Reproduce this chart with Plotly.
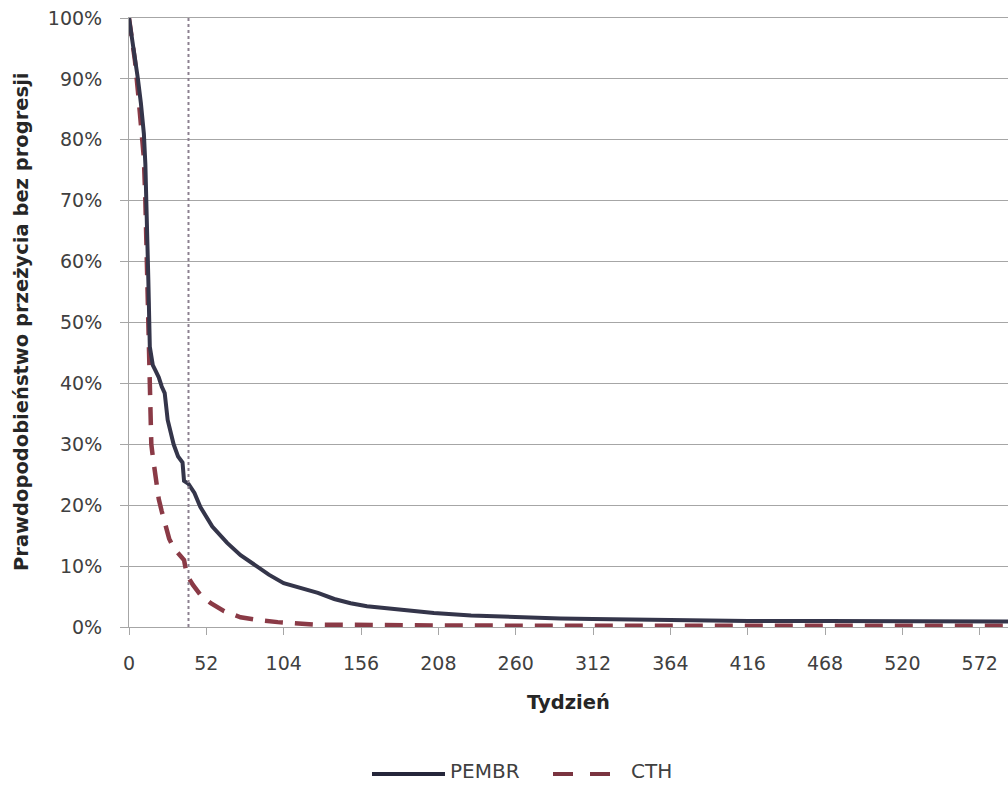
import plotly.graph_objects as go

# PEMBR progression-free survival (%)
pembr_weeks = [0, 2, 4, 6, 8, 10, 11, 12, 13, 14, 16, 18, 20, 22, 24, 26, 30, 33, 36, 37, 40, 44, 48, 56, 66, 75, 84, 94, 104, 116, 127, 138, 149, 160, 171, 188, 205, 230, 260, 290, 312, 364, 416, 468, 520, 591]
pembr_surv = [100, 97, 94, 90, 86, 81, 76, 68, 57, 46, 43, 42, 41, 39.5, 38.4, 34, 30, 28, 27, 24, 23.5, 22, 19.7, 16.5, 13.8, 11.8, 10.2, 8.6, 7.2, 6.3, 5.6, 4.6, 3.9, 3.4, 3.1, 2.7, 2.3, 1.9, 1.6, 1.4, 1.3, 1.1, 1.0, 1.0, 0.9, 0.9]

# CTH progression-free survival (%)
cth_weeks = [0, 2, 4, 6, 8, 10, 11, 12, 13, 14, 15, 16, 18, 20, 22, 24, 27, 30, 34, 37, 39, 43, 48, 55, 64, 75, 88, 100, 124, 156, 208, 300, 400, 591]
cth_surv = [100, 97, 93, 88, 83, 77, 70, 60, 45, 35, 30, 28, 24, 21, 19, 17, 14.5, 13, 12, 11, 8.5, 6.9, 5.3, 3.9, 2.6, 1.6, 1.1, 0.8, 0.4, 0.3, 0.25, 0.2, 0.2, 0.2]

x_ticks = [0, 52, 104, 156, 208, 260, 312, 364, 416, 468, 520, 572]
y_ticks = [0, 10, 20, 30, 40, 50, 60, 70, 80, 90, 100]
y_labels = ["0%", "10%", "20%", "30%", "40%", "50%", "60%", "70%", "80%", "90%", "100%"]
marker_week = 40

pembr_color = "#34354a"
cth_color = "#8a3a46"
grid = "#a6a6a6"
font = "DejaVu Sans"

L, T, PW, PH = 129, 18, 879, 609


def px(x):
    return (x - L) / PW


def py(y):
    return (T + PH - y) / PH


fig = go.Figure()
fig.add_trace(go.Scatter(x=cth_weeks, y=cth_surv, mode="lines", name="CTH",
                         line=dict(color=cth_color, width=4.5, dash="18px,12px")))
fig.add_trace(go.Scatter(x=pembr_weeks, y=pembr_surv, mode="lines", name="PEMBR",
                         line=dict(color=pembr_color, width=4)))
fig.add_trace(go.Scatter(x=[marker_week, marker_week], y=[0, 100], mode="lines",
                         line=dict(color="#8c8090", width=2, dash="dot"), showlegend=False))

fig.update_layout(
    width=1008, height=785,
    margin=dict(l=L, r=0, t=T, b=158, autoexpand=False),
    paper_bgcolor="white", plot_bgcolor="white",
    showlegend=False,
    font=dict(family=font, size=19, color="#404040"),
    xaxis=dict(range=[0, 591], tickvals=x_ticks, showgrid=False, zeroline=False,
               showline=True, linecolor=grid, linewidth=1, mirror=True,
               ticks="outside", ticklen=7, tickcolor=grid, ticklabelstandoff=12,
               automargin=False,
               title=dict(text="<b>Tydzień</b>", font=dict(size=19.5, color="#262626"), standoff=22)),
    yaxis=dict(range=[0, 100], tickvals=y_ticks, ticktext=y_labels, showgrid=True,
               gridcolor=grid, gridwidth=1, zeroline=False,
               showline=True, linecolor=grid, linewidth=1,
               ticks="outside", ticklen=8, tickcolor=grid, ticklabelstandoff=14,
               automargin=False),
)

# y-axis title placed explicitly
fig.add_annotation(text="<b>Prawdopodobieństwo przeżycia bez progresji</b>", xref="paper", yref="paper",
                   x=px(22), y=py(322), textangle=-90, showarrow=False,
                   xanchor="center", yanchor="middle", font=dict(size=19.5, color="#262626"))

# manual legend
ly = py(774)
for x0, x1, col in [(372, 445, "#25263a"), (553, 573, "#7a3440"), (590, 610, "#7a3440")]:
    fig.add_shape(type="line", xref="paper", yref="paper",
                  x0=px(x0), x1=px(x1), y0=ly, y1=ly, line=dict(color=col, width=4))
for label, xl in [("PEMBR", 449), ("CTH", 630)]:
    fig.add_annotation(text=label, xref="paper", yref="paper", x=px(xl), y=py(784),
                       xanchor="left", yanchor="bottom", showarrow=False, borderpad=0,
                       font=dict(size=20, color="#404040"))

fig.write_html("out.html")
